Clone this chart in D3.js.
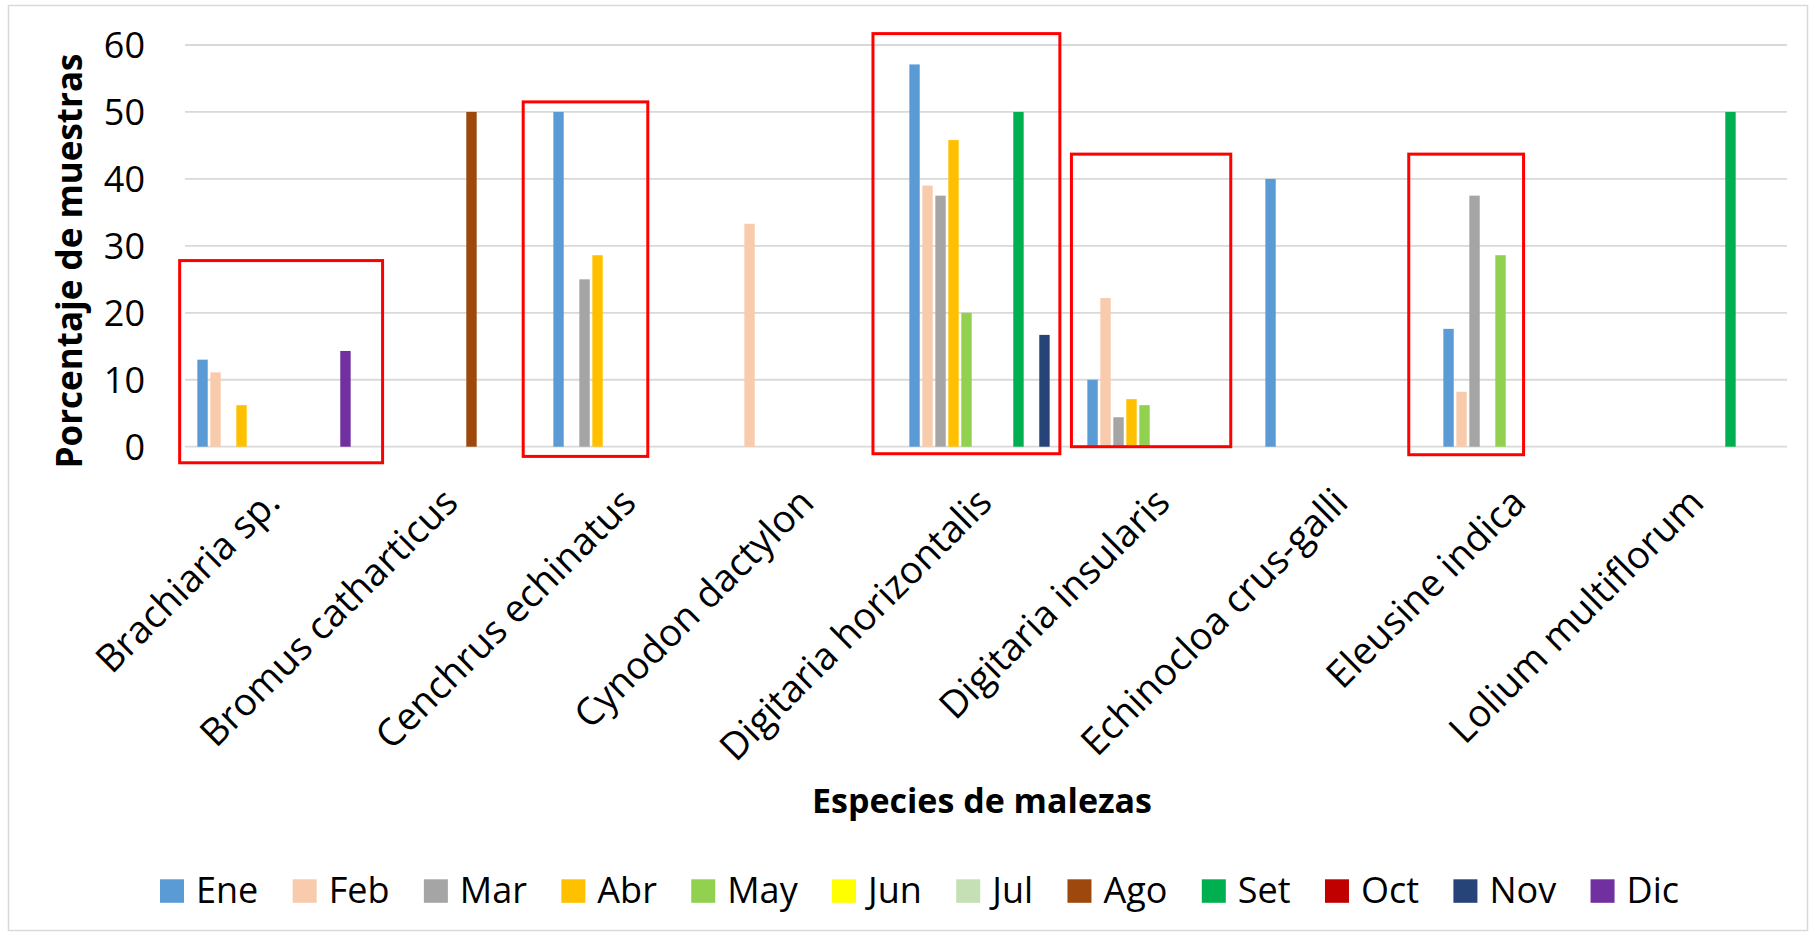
<!DOCTYPE html>
<html><head><meta charset="utf-8">
<script src="https://cdn.jsdelivr.net/npm/d3@7"></script>
<style>html,body{margin:0;padding:0;background:#fff;} svg{display:block;font-family:"Open Sans",sans-serif;}</style>
</head><body><svg id="chart" width="1812" height="936"></svg>
<script>
// ---- data ----
const categories = ["Brachiaria sp.", "Bromus catharticus", "Cenchrus echinatus", "Cynodon dactylon",
  "Digitaria horizontalis", "Digitaria insularis", "Echinocloa crus-galli", "Eleusine indica", "Lolium multiflorum"];
const months = ["Ene","Feb","Mar","Abr","May","Jun","Jul","Ago","Set","Oct","Nov","Dic"];
const monthColors = ["#5B9BD5","#F8CBAD","#A5A5A5","#FFC000","#92D050","#FFFF00","#C5E0B4","#9E480E","#00B050","#C00000","#264478","#7030A0"];
const ene = [13.0, null, 50.0, null, 57.1, 10.0, 40.0, 17.6, null];
const feb = [11.1, null, null, 33.3, 39.0, 22.2, null, 8.2, null];
const mar = [null, null, 25.0, null, 37.5, 4.4, null, 37.5, null];
const abr = [6.2, null, 28.6, null, 45.8, 7.1, null, null, null];
const may = [null, null, null, null, 20.0, 6.2, null, 28.6, null];
const jun = [null, null, null, null, null, null, null, null, null];
const jul = [null, null, null, null, null, null, null, null, null];
const ago = [null, 50.0, null, null, null, null, null, null, null];
const set = [null, null, null, null, 50.0, null, null, null, 50.0];
const oct = [null, null, null, null, null, null, null, null, null];
const nov = [null, null, null, null, 16.7, null, null, null, null];
const dic = [14.3, null, null, null, null, null, null, null, null];
const yTicks = [0, 10, 20, 30, 40, 50, 60];
const yTitle = "Porcentaje de muestras";
const xTitle = "Especies de malezas";
// highlighted groups (red boxes), in category-index units and value units
const highlightStart = [-0.03, 1.90, 3.865, 4.98, 6.875];
const highlightEnd   = [1.11, 2.60, 4.915, 5.875, 7.52];
const highlightLow   = [-2.4, -1.45, -1.05, 0.0, -1.2];
const highlightHigh  = [27.8, 51.5, 61.7, 43.7, 43.7];

const seriesValues = [ene, feb, mar, abr, may, jun, jul, ago, set, oct, nov, dic];

// ---- layout ----
const svg = d3.select("#chart");
const plotLeft = 185, plotRight = 1787, plotTop = 45, plotBottom = 446.7;

svg.append("rect").attr("x", 8.5).attr("y", 5.5).attr("width", 1799).attr("height", 925)
  .attr("fill", "#fff").attr("stroke", "#d9d9d9").attr("stroke-width", 1.5);

const x0 = d3.scaleBand().domain(categories).range([plotLeft, plotRight]).paddingInner(0).paddingOuter(0);
const x1 = d3.scaleBand().domain(months).range([0, x0.bandwidth()]).paddingInner(0.2).paddingOuter(0.95);
const y = d3.scaleLinear().domain([0, 60]).range([plotBottom, plotTop]);
const xc = d3.scaleLinear().domain([0, categories.length]).range([plotLeft, plotRight]);

// gridlines
svg.append("g").selectAll("line").data(yTicks).join("line")
  .attr("x1", plotLeft).attr("x2", plotRight)
  .attr("y1", d => y(d)).attr("y2", d => y(d))
  .attr("stroke", "#d9d9d9").attr("stroke-width", 1.8);

// y axis
const yAxis = svg.append("g").attr("transform", `translate(${plotLeft},0)`)
  .call(d3.axisLeft(y).tickValues(yTicks).tickSize(0).tickPadding(40));
yAxis.select(".domain").remove();
yAxis.selectAll("text").attr("font-size", 36).attr("fill", "#000").attr("font-family", "Open Sans").attr("dy", "0.35em");

// bars
const barData = [];
seriesValues.forEach((vals, mi) => vals.forEach((v, ci) => {
  if (v !== null) barData.push({cat: categories[ci], month: months[mi], color: monthColors[mi], value: v});
}));
svg.append("g").selectAll("rect").data(barData).join("rect")
  .attr("x", d => x0(d.cat) + x1(d.month))
  .attr("width", x1.bandwidth())
  .attr("y", d => y(d.value))
  .attr("height", d => y(0) - y(d.value))
  .attr("fill", d => d.color);

// x axis labels
const xAxis = svg.append("g").attr("transform", `translate(0,${plotBottom})`)
  .call(d3.axisBottom(x0).tickSize(0));
xAxis.select(".domain").remove();
xAxis.selectAll("text")
  .attr("x", 0).attr("y", 0).attr("dy", 0)
  .attr("text-anchor", "end")
  .attr("font-size", 38).attr("fill", "#000").attr("font-family", "Open Sans")
  .attr("transform", "translate(8,58) rotate(-45)");

// red highlight boxes
svg.append("g").selectAll("rect").data(highlightStart.map((s, i) => ({s, e: highlightEnd[i], lo: highlightLow[i], hi: highlightHigh[i]})))
  .join("rect")
  .attr("x", d => xc(d.s)).attr("width", d => xc(d.e) - xc(d.s))
  .attr("y", d => y(d.hi)).attr("height", d => y(d.lo) - y(d.hi))
  .attr("fill", "none").attr("stroke", "#FF0000").attr("stroke-width", 3);

// axis titles
svg.append("text").attr("transform", `translate(82,${(55 + 467) / 2}) rotate(-90)`)
  .attr("text-anchor", "middle").attr("font-size", 35).attr("font-weight", "bold").text(yTitle);
svg.append("text").attr("x", (plotLeft + plotRight) / 2 - 4).attr("y", 812.5)
  .attr("text-anchor", "middle").attr("font-size", 34).attr("font-weight", "bold").text(xTitle);

// legend
const legendLeft = 160, legendRight = 1679;
const legend = svg.append("g");
const items = legend.selectAll("g").data(months).join("g");
items.append("rect").attr("width", 24).attr("height", 23.5).attr("y", 879.3)
  .attr("fill", (d, i) => monthColors[i]);
items.append("text").attr("x", 36).attr("y", 903.3).attr("font-size", 36).attr("fill", "#000").text(d => d);
let widths = [];
items.each(function() { widths.push(36 + d3.select(this).select("text").node().getComputedTextLength()); });
const gap = (legendRight - legendLeft - d3.sum(widths)) / (widths.length - 1);
let cx = legendLeft;
items.attr("transform", (d, i) => { const t = `translate(${cx},0)`; cx += widths[i] + gap; return t; });
</script></body></html>
